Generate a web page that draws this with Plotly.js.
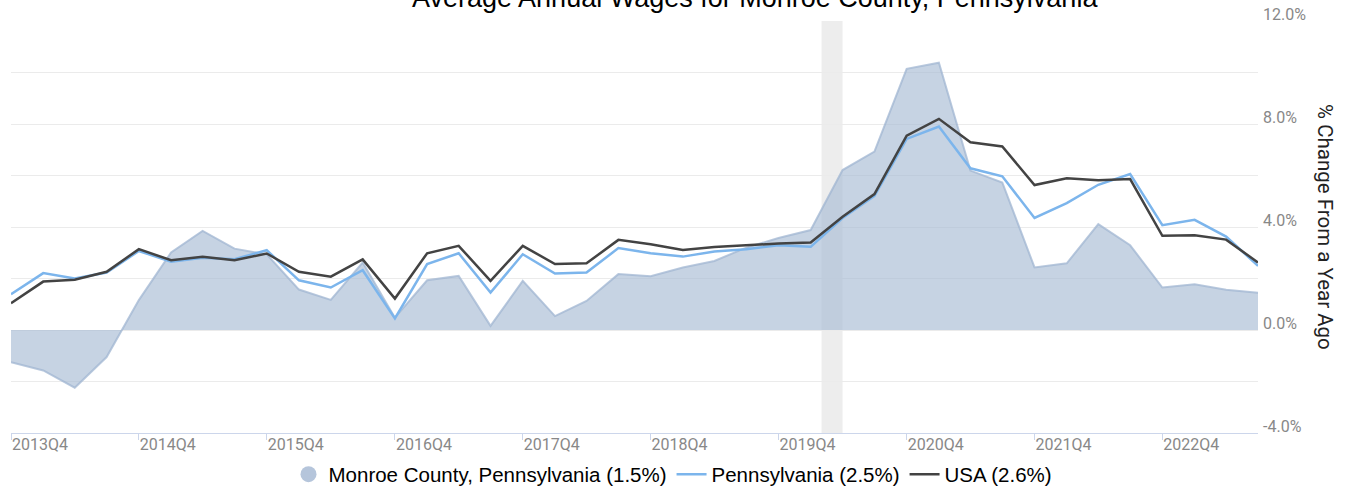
<!DOCTYPE html>
<html>
<head>
<meta charset="utf-8">
<script src="https://cdn.plot.ly/plotly-3.0.1.min.js"></script>
<style>html,body{margin:0;padding:0;background:#fff;}#chart{width:1346px;height:488px;}</style>
</head>
<body>
<div id="chart"></div>
<script>
// Quarters (2013Q4 .. 2023Q3)
const quarters = ['2013Q4',
  '2014Q1','2014Q2','2014Q3','2014Q4',
  '2015Q1','2015Q2','2015Q3','2015Q4',
  '2016Q1','2016Q2','2016Q3','2016Q4',
  '2017Q1','2017Q2','2017Q3','2017Q4',
  '2018Q1','2018Q2','2018Q3','2018Q4',
  '2019Q1','2019Q2','2019Q3','2019Q4',
  '2020Q1','2020Q2','2020Q3','2020Q4',
  '2021Q1','2021Q2','2021Q3','2021Q4',
  '2022Q1','2022Q2','2022Q3','2022Q4',
  '2023Q1','2023Q2','2023Q3'];

// % change from a year ago
const monroe = [-1.25,
  -1.57,-2.24,-1.05,1.16,
  3.01,3.85,3.16,2.94,
  1.57,1.17,2.62,0.48,
  1.93,2.10,0.16,1.91,
  0.54,1.13,2.17,2.09,
  2.43,2.68,3.20,3.57,
  3.88,6.21,6.93,10.14,
  10.38,6.19,5.73,2.43,
  2.59,4.11,3.29,1.65,
  1.78,1.56,1.45];
const pennsylvania = [1.39,
  2.21,2.00,2.23,3.07,
  2.65,2.81,2.75,3.10,
  1.93,1.65,2.32,0.45,
  2.56,2.98,1.45,2.94,
  2.19,2.23,3.18,2.98,
  2.85,3.05,3.14,3.29,
  3.23,4.35,5.21,7.42,
  7.90,6.28,5.97,4.35,
  4.93,5.64,6.06,4.07,
  4.28,3.63,2.49];
const usa = [1.04,
  1.88,1.95,2.26,3.14,
  2.71,2.84,2.71,2.97,
  2.26,2.07,2.74,1.22,
  2.98,3.27,1.91,3.27,
  2.56,2.59,3.50,3.33,
  3.11,3.22,3.29,3.36,
  3.40,4.40,5.28,7.55,
  8.20,7.29,7.13,5.63,
  5.89,5.82,5.86,3.66,
  3.68,3.51,2.62];

const seriesNames = ['Monroe County, Pennsylvania (1.5%)', 'Pennsylvania (2.5%)', 'USA (2.6%)'];
const xTickLabels = ['2013Q4','2014Q4','2015Q4','2016Q4','2017Q4','2018Q4','2019Q4','2020Q4','2021Q4','2022Q4'];
const yTickVals = [-4,-2,0,2,4,6,8,10,12];
const yTickText = ['-4.0%','','0.0%','','4.0%','','8.0%','','12.0%'];
const recession = ['2020-02-01','2020-04-01'];
const titleText = 'Average Annual Wages for Monroe County, Pennsylvania';
const yTitleText = '% Change From a Year Ago';

function qToDate(q){
  const y = q.slice(0,4), n = parseInt(q.slice(5),10);
  const m = String((n-1)*3+1).padStart(2,'0');
  return y + '-' + m + '-01';
}
const xDates = quarters.map(qToDate);
const xTickDates = xTickLabels.map(qToDate);

const traces = [
  {x: xDates, y: monroe, type: 'scatter', mode: 'lines', fill: 'tozeroy',
   fillcolor: 'rgba(167,187,212,0.65)', line: {color: 'rgba(160,182,210,0.75)', width: 2},
   showlegend: false, hoverinfo: 'skip'},
  {x: [null], y: [null], type: 'scatter', mode: 'markers', name: seriesNames[0],
   marker: {symbol: 'circle', size: 18, color: '#b5c5db'}},
  {x: xDates, y: pennsylvania, type: 'scatter', mode: 'lines', name: seriesNames[1],
   line: {color: '#7cb5ec', width: 2.5}},
  {x: xDates, y: usa, type: 'scatter', mode: 'lines', name: seriesNames[2],
   line: {color: '#434343', width: 2.5}}
];

const layout = {
  width: 1346, height: 488,
  margin: {l: 11, r: 88, t: 21, b: 55, pad: 0},
  paper_bgcolor: '#ffffff', plot_bgcolor: '#ffffff',
  showlegend: true,
  legend: {orientation: 'h', xref: 'container', yref: 'container', x: 0.5, xanchor: 'center',
           y: 0.028, yanchor: 'middle', font: {family: 'Liberation Sans, Arial, sans-serif', size: 20.5, color: '#000'},
           itemwidth: 30, traceorder: 'normal'},
  xaxis: {type: 'date', range: [xDates[0], xDates[xDates.length-1]],
          tickvals: xTickDates, ticktext: xTickLabels,
          ticklabelposition: 'outside right', ticklabelstandoff: -3,
          ticks: 'outside', ticklen: 6, tickcolor: '#ccd6eb', tickwidth: 1,
          showgrid: false, showline: true, linecolor: '#ccd6eb', linewidth: 1,
          zeroline: false,
          tickfont: {family: 'Roboto, sans-serif', size: 16, color: '#888888'}},
  yaxis: {side: 'right', range: [-4, 12], tickvals: yTickVals, ticktext: yTickText,
          ticklabelposition: 'outside', ticklabelshift: -7, ticklabelstandoff: 4,
          showgrid: true, gridcolor: '#ebebeb', gridwidth: 1, zeroline: false,
          showline: false, ticks: '',
          tickfont: {family: 'Roboto, sans-serif', size: 16, color: '#888888'}},
  shapes: [
    {type: 'rect', xref: 'x', yref: 'paper', x0: recession[0], x1: recession[1], y0: 0, y1: 1,
     fillcolor: '#ededed', line: {width: 0}, layer: 'below'}
  ],
  annotations: [
    {text: titleText, xref: 'paper', yref: 'paper', x: 0.5966, y: 1.015, xanchor: 'center', yanchor: 'bottom',
     showarrow: false, font: {family: 'Liberation Sans, Arial, sans-serif', size: 27, color: '#000'}},
    {text: yTitleText, xref: 'paper', yref: 'paper', x: 1.0537, y: 0.5, xanchor: 'center', yanchor: 'middle',
     textangle: 90, showarrow: false, font: {family: 'Roboto, sans-serif', size: 20.5, color: '#222'}}
  ]
};

Plotly.newPlot('chart', traces, layout, {displayModeBar: false, staticPlot: true});
</script>
</body>
</html>
